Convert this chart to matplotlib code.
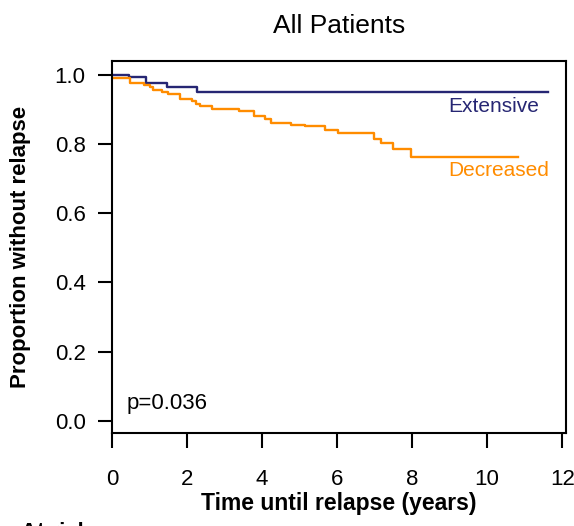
import matplotlib
matplotlib.use('Agg')
import matplotlib.pyplot as plt

plt.rcParams['font.family'] = ['Liberation Sans', 'DejaVu Sans']

# Kaplan-Meier estimates
ext_t = [0, 0.46, 0.91, 1.46, 2.26, 11.63]
ext_s = [1.0, 0.992, 0.975, 0.965, 0.95, 0.95]

dec_t = [0, 0.47, 0.86, 1.01, 1.10, 1.32, 1.50, 1.81, 2.13, 2.23, 2.35, 2.66,
         3.39, 3.79, 4.08, 4.25, 4.77, 5.15, 5.68, 6.02, 6.99, 7.17, 7.50,
         7.97, 10.83]
dec_s = [0.990, 0.975, 0.969, 0.963, 0.955, 0.949, 0.944, 0.930, 0.923, 0.915,
         0.908, 0.900, 0.895, 0.881, 0.872, 0.860, 0.854, 0.850, 0.840, 0.830,
         0.815, 0.801, 0.785, 0.762, 0.762]

xticks = [0, 2, 4, 6, 8, 10, 12]
yticks = [0.0, 0.2, 0.4, 0.6, 0.8, 1.0]

navy = '#262673'
orange = '#FF8C00'

fig = plt.figure(figsize=(5.74, 5.26), dpi=100)
ax = fig.add_axes([0.1951, 0.1768, 0.7909, 0.7072])

ax.step(ext_t, ext_s, where='post', color=navy, lw=1.7)
ax.step(dec_t, dec_s, where='post', color=orange, lw=1.7)

ax.text(8.97, 0.909, 'Extensive', color=navy, fontsize=15, ha='left', va='center')
ax.text(8.97, 0.722, 'Decreased', color=orange, fontsize=15, ha='left', va='center')
ax.text(0.4, 0.049, 'p=0.036', fontsize=16, ha='left', va='center')

ax.set_xlim(0, 12.1)
ax.set_ylim(-0.035, 1.039)
ax.set_xticks(xticks)
ax.set_yticks(yticks)
ax.set_yticklabels(['%.1f' % v for v in yticks])
ax.tick_params(axis='x', length=11, width=1.5, pad=15, labelsize=16)
ax.tick_params(axis='y', length=10, width=1.5, pad=9, labelsize=16)
for s in ax.spines.values():
    s.set_linewidth(1.5)

ax.set_title('All Patients', fontsize=19, pad=20)
ax.set_xlabel('Time until relapse (years)', fontsize=16.5, fontweight='bold', labelpad=1)
ax.set_ylabel('Proportion without relapse', fontsize=16, fontweight='bold', labelpad=17)

fig.text(21 / 574, 1 - 522 / 526, 'At risk', fontsize=16, fontweight='bold',
         ha='left', va='top')

fig.savefig('out.png', dpi=100)
plt.close()
